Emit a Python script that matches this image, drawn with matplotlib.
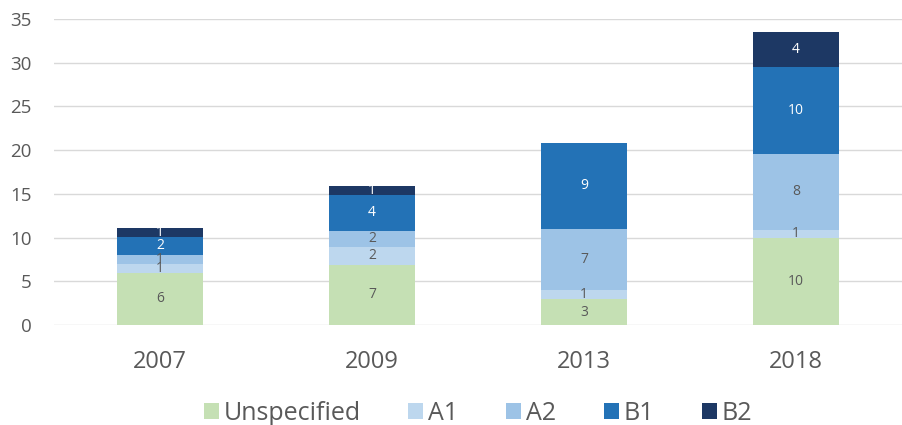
import numpy as np
import matplotlib
matplotlib.use("Agg")
import matplotlib.pyplot as plt

plt.rcParams['font.family'] = ['Open Sans', 'DejaVu Sans']

years = ["2007", "2009", "2013", "2018"]
series = ["Unspecified", "A1", "A2", "B1", "B2"]
unspecified = [6.0, 6.9, 2.95, 10.0]
a1 = [1.0, 2.0, 1.05, 0.9]
a2 = [1.0, 1.9, 7.0, 8.65]
b1 = [2.1, 4.1, 9.8, 10.0]
b2 = [1.0, 1.0, 0.0, 3.95]
# labels as printed on the bars
lab_unspecified = ["6", "7", "3", "10"]
lab_a1 = ["1", "2", "1", "1"]
lab_a2 = ["1", "2", "7", "8"]
lab_b1 = ["2", "4", "9", "10"]
lab_b2 = ["1", "1", "", "4"]

colors = ["#C5E0B4", "#BDD7EE", "#9DC3E6", "#2372B6", "#1D3864"]
txtcol = ["#595959", "#595959", "#595959", "white", "white"]
grey = "#595959"

vals = [unspecified, a1, a2, b1, b2]
labs = [lab_unspecified, lab_a1, lab_a2, lab_b1, lab_b2]

fig = plt.figure(figsize=(9.02, 4.25), dpi=100)
ax = fig.add_axes([0.06, 0.2353, 0.94, 0.72])

x = np.arange(len(years))
bottom = np.zeros(len(years))
for name, v, lb, c, tc in zip(series, vals, labs, colors, txtcol):
    v = np.array(v)
    ax.bar(x, v, 0.405, bottom=bottom, color=c, label=name, zorder=3)
    for i in range(len(x)):
        if lb[i] != "":
            ax.text(x[i], bottom[i] + v[i] / 2, lb[i], ha="center", va="center",
                    fontsize=10, color=tc, zorder=4)
    bottom = bottom + v

ax.set_xlim(-0.5, 3.5)
ax.set_ylim(0, 35)
ax.set_yticks(range(0, 36, 5))
ax.set_xticks(x)
ax.set_xticklabels(years)
ax.grid(axis="y", color="#D9D9D9", linewidth=1, zorder=0)
for s in ax.spines.values():
    s.set_visible(False)
ax.tick_params(axis="y", length=0, labelsize=13.5, labelcolor=grey, pad=16)
ax.tick_params(axis="x", length=0, labelsize=17, labelcolor=grey, pad=18)

ax.legend(loc="center", bbox_to_anchor=(0.5, -0.29), ncol=5, frameon=False,
          fontsize=18, labelcolor=grey, handlelength=0.6, handleheight=0.6,
          handletextpad=0.2, columnspacing=1.9)

fig.savefig("out.png", dpi=100)
